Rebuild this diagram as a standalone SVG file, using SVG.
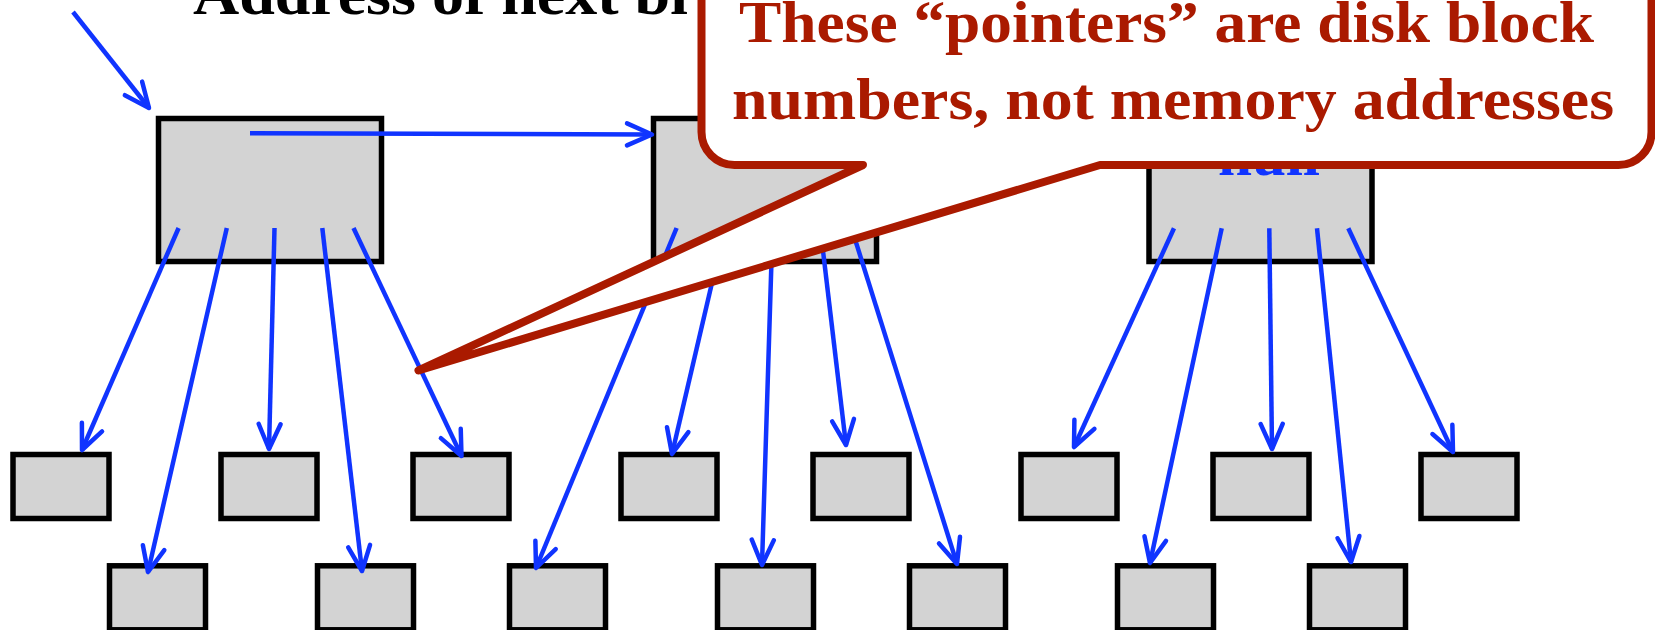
<svg xmlns="http://www.w3.org/2000/svg" width="1655" height="630" viewBox="0 0 1655 630">
  <defs>
    <style>
      .blk { fill: #d3d3d3; stroke: #000; stroke-width: 5.5; }
      .cn { stroke: #1034ff; stroke-width: 4.5; fill: none; marker-end: url(#ah); }
      .ser { font-family: "Liberation Serif", "Times New Roman", serif; font-weight: bold; font-size: 60px; }
      .red { fill: #aa1a00; }
    </style>
    <marker id="ah" markerUnits="userSpaceOnUse" orient="auto" refX="0" refY="0" markerWidth="60" markerHeight="60" viewBox="-30 -30 60 60" overflow="visible">
      <path d="M-25,-11 L0,0 L-25,11" fill="none" stroke="#1034ff" stroke-width="4.5" stroke-linecap="round" stroke-linejoin="round"/>
    </marker>
  </defs>
  <rect width="1655" height="630" fill="#fff"/>

  <g id="label-address">
    <text class="ser" x="193" y="14" fill="#000" textLength="495" lengthAdjust="spacingAndGlyphs">Address of next bl</text>
  </g>

  <g id="top-block-1"><rect class="blk" x="158.5" y="118.5" width="223" height="143"/></g>
  <g id="top-block-2"><rect class="blk" x="653.5" y="118.5" width="223" height="143"/></g>
  <g id="top-block-3">
    <rect class="blk" x="1149" y="118.5" width="223" height="143"/>
    <text class="ser" x="1269" y="174.5" fill="#1034ff" text-anchor="middle" textLength="102" lengthAdjust="spacingAndGlyphs">null</text>
  </g>

  <g id="data-row-1">
    <rect id="d1" class="blk" x="13" y="454.5" width="96" height="64"/>
    <rect id="d3" class="blk" x="221" y="454.5" width="96" height="64"/>
    <rect id="d5" class="blk" x="413" y="454.5" width="96" height="64"/>
    <rect id="d7" class="blk" x="621" y="454.5" width="96" height="64"/>
    <rect id="d9" class="blk" x="813" y="454.5" width="96" height="64"/>
    <rect id="d11" class="blk" x="1021" y="454.5" width="96" height="64"/>
    <rect id="d13" class="blk" x="1213" y="454.5" width="96" height="64"/>
    <rect id="d15" class="blk" x="1421" y="454.5" width="96" height="64"/>
  </g>
  <g id="data-row-2">
    <rect id="d2" class="blk" x="109.5" y="565.8" width="96" height="64"/>
    <rect id="d4" class="blk" x="317.5" y="565.8" width="96" height="64"/>
    <rect id="d6" class="blk" x="509.5" y="565.8" width="96" height="64"/>
    <rect id="d8" class="blk" x="717.5" y="565.8" width="96" height="64"/>
    <rect id="d10" class="blk" x="909.5" y="565.8" width="96" height="64"/>
    <rect id="d12" class="blk" x="1117.5" y="565.8" width="96" height="64"/>
    <rect id="d14" class="blk" x="1309.5" y="565.8" width="96" height="64"/>
  </g>

  <g id="connectors">
    <line class="cn" x1="73" y1="12" x2="149" y2="108"/>
    <line class="cn" x1="250" y1="133.3" x2="652" y2="134.5"/>

    <line class="cn" x1="178.6" y1="228" x2="82" y2="450"/>
    <line class="cn" x1="226.8" y1="228" x2="148" y2="572"/>
    <line class="cn" x1="274.5" y1="228" x2="269" y2="449"/>
    <line class="cn" x1="322.3" y1="228" x2="362" y2="571"/>
    <line class="cn" x1="353.5" y1="228" x2="461.5" y2="456"/>

    <line class="cn" x1="676.6" y1="228" x2="536" y2="568"/>
    <line class="cn" x1="724.8" y1="228" x2="672" y2="454"/>
    <line class="cn" x1="772.5" y1="228" x2="762" y2="565"/>
    <line class="cn" x1="820.3" y1="228" x2="846" y2="445"/>
    <line class="cn" x1="851.5" y1="228" x2="957" y2="564"/>

    <line class="cn" x1="1174" y1="228.3" x2="1074" y2="447"/>
    <line class="cn" x1="1221.7" y1="228.3" x2="1150" y2="563"/>
    <line class="cn" x1="1269.3" y1="228.3" x2="1272" y2="449"/>
    <line class="cn" x1="1317" y1="228.3" x2="1351" y2="562"/>
    <line class="cn" x1="1348.3" y1="228.3" x2="1453" y2="452"/>
  </g>

  <g id="callout">
    <path d="M701.5,-40 L701.5,132 A33,33 0 0 0 734.5,165 L863,165 L418.5,370.5 L1100,165 L1618.5,165 A33,33 0 0 0 1651.5,132 L1651.5,-40 Z" fill="#fff" stroke="#aa1a00" stroke-width="8" stroke-linejoin="round"/>
    <text class="ser red" x="739" y="42" textLength="855" lengthAdjust="spacingAndGlyphs">These “pointers” are disk block</text>
    <text class="ser red" x="732" y="118.5" textLength="882" lengthAdjust="spacingAndGlyphs">numbers, not memory addresses</text>
  </g>
</svg>
